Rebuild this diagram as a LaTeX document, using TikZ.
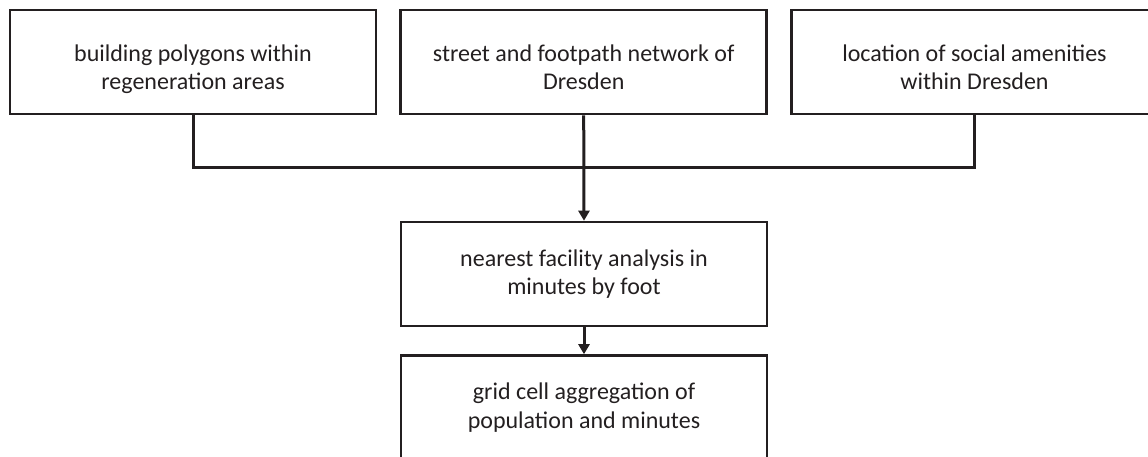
\documentclass[tikz,border=0pt]{standalone}
\usepackage{fontspec}
\setmainfont{Carlito}
\usetikzlibrary{arrows.meta}
\definecolor{ink}{HTML}{231F20}
\newcommand{\lowtext}[1]{\raisebox{-8pt}[\height][\depth]{\begin{tabular}{@{}c@{}}#1\end{tabular}}}
\begin{document}
\begin{tikzpicture}[x=1pt,y=1pt,
  box/.style={draw=ink, line width=2.6pt, minimum width=366pt, minimum height=104pt,
    inner sep=0pt, align=center, text=ink,
    font=\fontsize{24pt}{28.5pt}\selectfont},
  conn/.style={draw=ink, line width=3pt},
  arr/.style={conn, -{Triangle[length=10pt,width=11pt]}}]
\useasboundingbox (0,0) rectangle (1148,-457);
\clip (0,0) rectangle (1148,-457);
\node[box] (b1) at (193,-62) {\lowtext{building polygons within\\regeneration areas}};
\node[box] (b2) at (583.7,-62) {\lowtext{street and footpath network of\\Dresden}};
\node[box] (b3) at (974.5,-62) {\lowtext{location of social amenities\\within Dresden}};
\node[box] (b4) at (584,-274) {nearest facility analysis in\\minutes by foot};
\node[box] (b5) at (584,-407.5) {grid cell aggregation of\\population and minutes};
\coordinate (j) at (b2.south |- 0,-168);
\draw[conn] (b1.south) |- (j) -| (b3.south);
\draw[arr] (b2.south) -- (b4.north);
\draw[arr] (b4.south) -- (b5.north);
\end{tikzpicture}
\end{document}
